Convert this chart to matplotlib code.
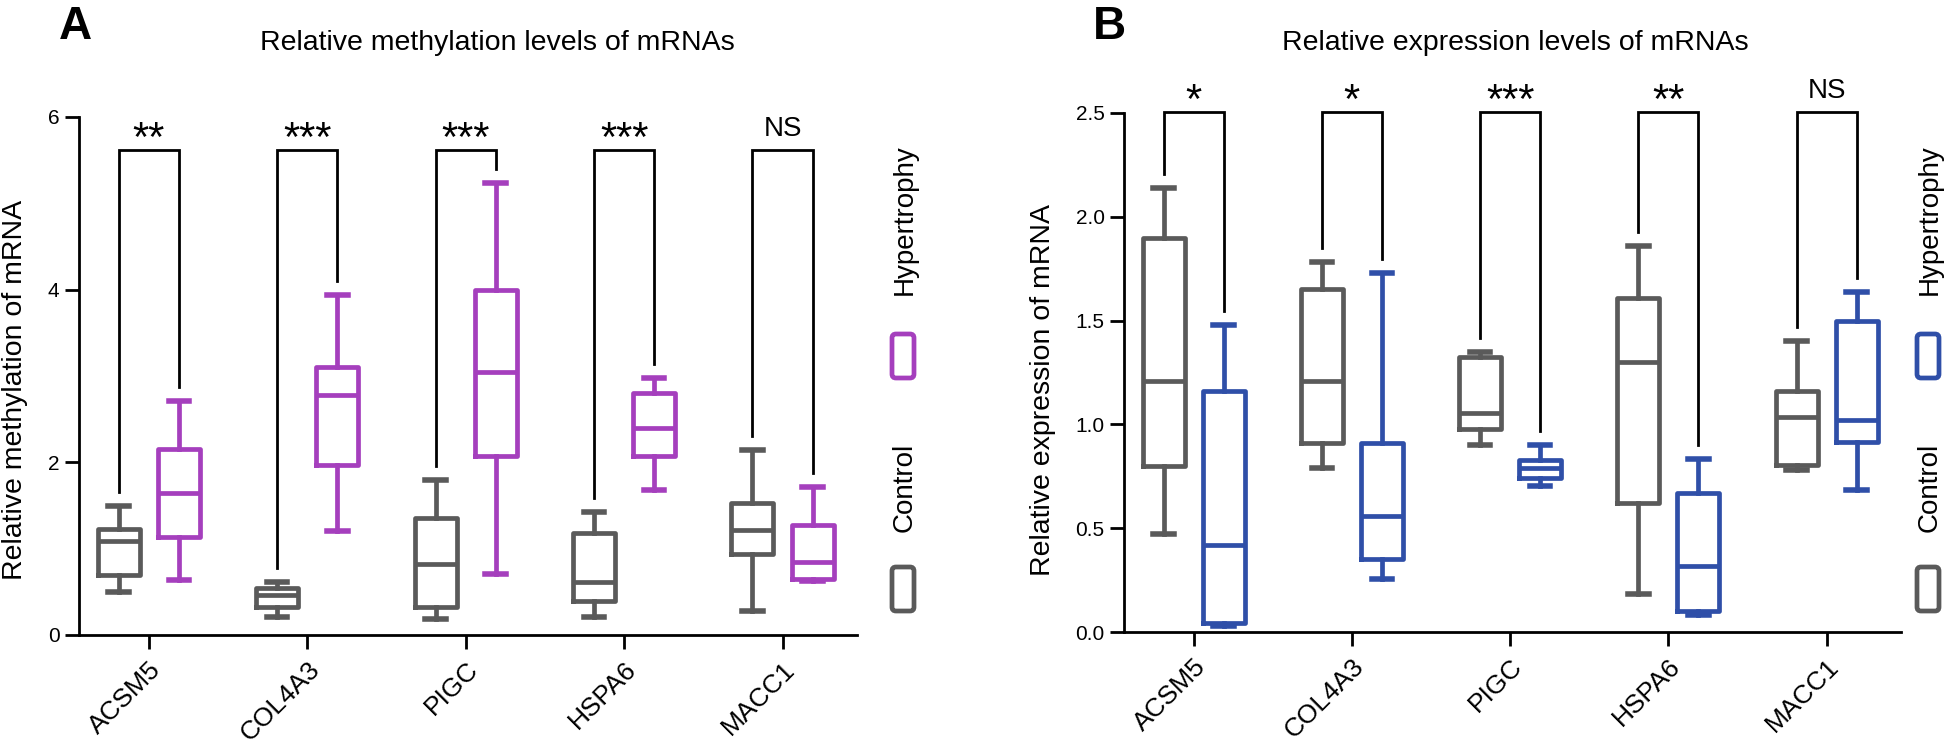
import numpy as np
import matplotlib.pyplot as plt
from matplotlib.patches import FancyBboxPatch

plt.rcParams['font.family'] = ['Liberation Sans', 'DejaVu Sans']

genes = ['ACSM5', 'COL4A3', 'PIGC', 'HSPA6', 'MACC1']

# box stats per gene: (whislo, q1, median, q3, whishi)
meth_control = [(0.50, 0.69, 1.09, 1.23, 1.49),
                (0.21, 0.33, 0.46, 0.55, 0.61),
                (0.18, 0.33, 0.82, 1.35, 1.80),
                (0.21, 0.39, 0.61, 1.18, 1.43),
                (0.28, 0.94, 1.22, 1.53, 2.14)]
meth_hyper = [(0.64, 1.14, 1.65, 2.16, 2.71),
              (1.21, 1.97, 2.78, 3.11, 3.94),
              (0.71, 2.07, 3.05, 4.00, 5.23),
              (1.68, 2.07, 2.40, 2.80, 2.98),
              (0.63, 0.645, 0.84, 1.27, 1.71)]
expr_control = [(0.47, 0.80, 1.21, 1.90, 2.14),
                (0.79, 0.91, 1.21, 1.65, 1.78),
                (0.90, 0.98, 1.055, 1.325, 1.35),
                (0.185, 0.62, 1.30, 1.61, 1.86),
                (0.78, 0.806, 1.034, 1.163, 1.40)]
expr_hyper = [(0.03, 0.043, 0.42, 1.16, 1.48),
              (0.255, 0.35, 0.56, 0.91, 1.73),
              (0.705, 0.74, 0.79, 0.83, 0.90),
              (0.083, 0.10, 0.32, 0.67, 0.835),
              (0.686, 0.914, 1.02, 1.50, 1.64)]

meth_sig = ['**', '***', '***', '***', 'NS']
expr_sig = ['*', '*', '***', '**', 'NS']

GRAY = '#5a5a5a'
PURPLE = '#a53fbd'
BLUE = '#2f4fa8'

W, H = 1946, 747
fig = plt.figure(figsize=(W / 100, H / 100), dpi=100)


def px_axes(left, top, right, bottom):
    return fig.add_axes([left / W, 1 - bottom / H, (right - left) / W, (bottom - top) / H])


def draw_panel(ax, ctrl, hyper, color, ymax, yticks, ylabels, sig, bracket_y):
    pos = np.arange(len(genes))
    for src, off, col in [(ctrl, -0.19, GRAY), (hyper, 0.19, color)]:
        stats = [dict(whislo=s[0], q1=s[1], med=s[2], q3=s[3], whishi=s[4]) for s in src]
        props = dict(color=col, linewidth=3.4, solid_joinstyle='round')
        ax.bxp(stats, positions=pos + off, widths=0.265, showfliers=False,
               capwidths=0.13, boxprops=props, whiskerprops=props,
               medianprops=props, capprops=dict(color=col, linewidth=4))
    gap = 0.027 * ymax
    for i in range(len(genes)):
        x0, x1 = i - 0.19, i + 0.19
        ax.plot([x0, x0, x1, x1],
                [ctrl[i][4] + gap, bracket_y, bracket_y, hyper[i][4] + gap],
                color='black', lw=2.0, clip_on=False, solid_joinstyle='miter')
        if sig[i] == 'NS':
            ax.annotate(sig[i], (i, bracket_y), xytext=(0, 10), textcoords='offset points',
                        ha='center', va='baseline', fontsize=20, annotation_clip=False)
        else:
            ax.annotate(sig[i], (i, bracket_y), xytext=(0, -1), textcoords='offset points',
                        ha='center', va='baseline', fontsize=30, annotation_clip=False)
    ax.set_xlim(-0.44, 4.47)
    ax.set_ylim(0, ymax)
    ax.set_xticks(pos)
    ax.set_xticklabels(genes, rotation=45, ha='right', rotation_mode='anchor', fontsize=19)
    ax.set_yticks(yticks)
    ax.set_yticklabels(ylabels, fontsize=15)
    for s in ['top', 'right']:
        ax.spines[s].set_visible(False)
    for s in ['left', 'bottom']:
        ax.spines[s].set_linewidth(2.0)
    ax.tick_params(length=10, width=2.0, color='black')
    ax.tick_params(axis='x', pad=6)
    ax.tick_params(axis='y', pad=4)


def legend(xc, color):
    fig.text(xc / W, 1 - 220 / H, 'Hypertrophy', rotation=90, ha='center', va='center', fontsize=20)
    fig.text(xc / W, 1 - 487 / H, 'Control', rotation=90, ha='center', va='center', fontsize=20)
    for ytop, col in [(334, color), (567, GRAY)]:
        box = FancyBboxPatch(((xc - 11 - 2) / 100, (H - ytop - 44) / 100), 0.22, 0.44,
                             boxstyle='round,pad=0,rounding_size=0.04',
                             transform=fig.dpi_scale_trans, fill=False,
                             edgecolor=col, lw=3.4)
        fig.add_artist(box)


axA = px_axes(79, 117, 857, 635)
draw_panel(axA, meth_control, meth_hyper, PURPLE, 6, [0, 2, 4, 6], ['0', '2', '4', '6'],
           meth_sig, 5.62)
axA.set_ylabel('Relative methylation of mRNA', fontsize=20.5)
axA.yaxis.set_label_coords(-0.066, 0.473)

axB = px_axes(1124, 113, 1901, 632)
draw_panel(axB, expr_control, expr_hyper, BLUE, 2.5, [0, 0.5, 1.0, 1.5, 2.0, 2.5],
           ['0.0', '0.5', '1.0', '1.5', '2.0', '2.5'], expr_sig, 2.505)
axB.set_ylabel('Relative expression of mRNA', fontsize=20.5)
axB.yaxis.set_label_coords(-0.088, 0.466)

fig.text(497 / W, 1 - 43 / H, 'Relative methylation levels of mRNAs', ha='center', va='center', fontsize=20.5)
fig.text(1515 / W, 1 - 43 / H, 'Relative expression levels of mRNAs', ha='center', va='center', fontsize=20.5)
fig.text(59 / W, 1 - 5 / H, 'A', ha='left', va='top', fontsize=33, fontweight='bold')
fig.text(1093 / W, 1 - 5 / H, 'B', ha='left', va='top', fontsize=33, fontweight='bold')

legend(905, PURPLE)
legend(1930, BLUE)

fig.savefig('out.png', dpi=100)
